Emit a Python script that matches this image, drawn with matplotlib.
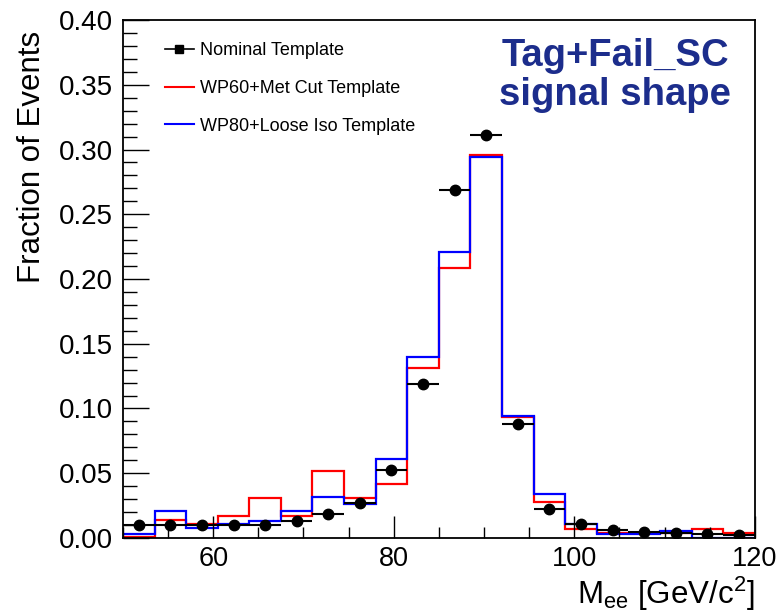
import numpy as np
import matplotlib
matplotlib.use("Agg")
import matplotlib.pyplot as plt
from matplotlib.ticker import MultipleLocator, FormatStrFormatter
from matplotlib.lines import Line2D

plt.rcParams['font.family'] = ['Liberation Sans', 'DejaVu Sans']
plt.rcParams['mathtext.fontset'] = 'custom'
plt.rcParams['mathtext.rm'] = 'Liberation Sans'
plt.rcParams['mathtext.it'] = 'Liberation Sans:italic'

# 20 bins of 3.5 GeV between 50 and 120
bin_edges = np.linspace(50, 120, 21)

nominal = [0.0098, 0.0098, 0.0098, 0.0098, 0.0098, 0.0129, 0.0183, 0.0273, 0.0525, 0.1192,
           0.2687, 0.3115, 0.0878, 0.0221, 0.0106, 0.0062, 0.0044, 0.0036, 0.0028, 0.0023]
wp60_met = [0.0005, 0.0139, 0.0110, 0.0172, 0.0306, 0.0172, 0.0520, 0.0309, 0.0417, 0.1315,
            0.2088, 0.2955, 0.0934, 0.0276, 0.0072, 0.0036, 0.0041, 0.0036, 0.0070, 0.0036]
wp80_iso = [0.0031, 0.0208, 0.0080, 0.0110, 0.0129, 0.0208, 0.0314, 0.0262, 0.0607, 0.1395,
            0.2208, 0.2945, 0.0942, 0.0340, 0.0106, 0.0028, 0.0030, 0.0057, 0.0003, 0.0003]

legend_labels = ["Nominal Template", "WP60+Met Cut Template", "WP80+Loose Iso Template"]

fig = plt.figure(figsize=(7.83, 6.14), dpi=100)
ax = fig.add_axes([0.157, 0.1238, 0.807, 0.8436])

ax.stairs(wp60_met, bin_edges, color='#ff0000', lw=1.6, baseline=None)
ax.stairs(wp80_iso, bin_edges, color='#0000ff', lw=1.6, baseline=None)

centers = 0.5 * (bin_edges[:-1] + bin_edges[1:])
half_w = 0.5 * np.diff(bin_edges)
ax.errorbar(centers, nominal, xerr=half_w, fmt='o', color='black', ms=7.5,
            elinewidth=1.5, capsize=0, zorder=5)

ax.set_xlim(50, 120)
ax.set_ylim(0, 0.4)
ax.xaxis.set_major_locator(MultipleLocator(20))
ax.xaxis.set_minor_locator(MultipleLocator(5))
ax.yaxis.set_major_locator(MultipleLocator(0.05))
ax.yaxis.set_minor_locator(MultipleLocator(0.01))
ax.yaxis.set_major_formatter(FormatStrFormatter('%.2f'))
ax.tick_params(which='both', direction='in', top=False, right=False, width=1.0)
ax.tick_params(axis='y', which='major', length=19, labelsize=20, pad=7)
ax.tick_params(axis='y', which='minor', length=10)
ax.tick_params(axis='x', which='major', length=16, labelsize=19.5, pad=6)
ax.tick_params(axis='x', which='minor', length=8)
for sp in ax.spines.values():
    sp.set_linewidth(1.3)

ax.set_ylabel("Fraction of Events", fontsize=22.5, loc='top')
ax.yaxis.set_label_coords(-0.12, 0.98)
ax.set_xlabel(r"M$_{\rm ee}$ [GeV/c$^{2}$]", fontsize=22.5, loc='right', labelpad=2)

handles = [
    Line2D([], [], color='black', marker='s', ms=6, lw=1.2),
    Line2D([], [], color='#ff0000', lw=1.5),
    Line2D([], [], color='#0000ff', lw=1.5),
]
ax.legend(handles, legend_labels, loc='upper left', bbox_to_anchor=(0.066, 0.957),
          frameon=False, fontsize=13, handlelength=1.6, handletextpad=0.35,
          labelspacing=1.15, borderaxespad=0, borderpad=0)

ax.text(0.779, 0.893, "Tag+Fail_SC\nsignal shape", transform=ax.transAxes,
        ha='center', va='center', multialignment='center', fontsize=27.5,
        fontweight='bold', color='#1c2d8c', linespacing=1.12)

fig.savefig("out.png", dpi=100)
